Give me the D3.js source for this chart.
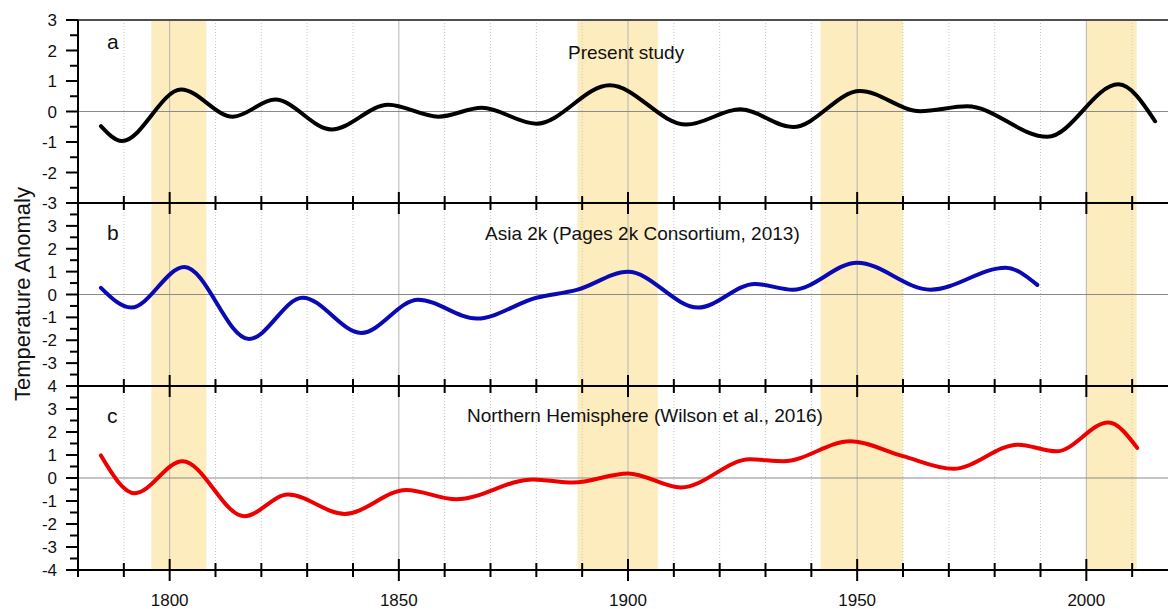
<!DOCTYPE html>
<html>
<head>
<meta charset="utf-8">
<script src="https://cdn.jsdelivr.net/npm/d3@7"></script>
<style>
  html, body { margin: 0; padding: 0; background: #fff; }
  svg { display: block; font-family: Arial, "Liberation Sans", sans-serif; }
</style>
</head>
<body>
<svg id="chart" width="1168" height="609"></svg>
<script>
// ---------------- data ----------------
const presentYears = [1785, 1789.6, 1802.5, 1813.8, 1823, 1835.3, 1847.7, 1858.6, 1868.1, 1880, 1896, 1912.7, 1924.5, 1936, 1950.6, 1963.8, 1974, 1991.5, 2007, 2015];
const presentVals  = [-0.48, -0.97, 0.72, -0.17, 0.39, -0.59, 0.22, -0.17, 0.12, -0.40, 0.86, -0.43, 0.07, -0.51, 0.67, 0.01, 0.17, -0.83, 0.89, -0.32];

const asiaYears = [1785, 1791.6, 1803.2, 1817.3, 1829, 1841.8, 1854.2, 1867, 1880, 1888.8, 1900, 1915.3, 1927.7, 1936, 1950, 1966, 1982.4, 1989.3];
const asiaVals  = [0.29, -0.57, 1.2, -1.95, -0.14, -1.68, -0.23, -1.05, -0.14, 0.2, 0.99, -0.57, 0.46, 0.21, 1.39, 0.21, 1.17, 0.42];

const nhYears = [1785, 1792.4, 1802.8, 1816.3, 1825.8, 1838.2, 1851.6, 1862.5, 1879.3, 1888, 1900, 1911.6, 1926.6, 1933.9, 1948.5, 1960, 1971, 1985.1, 1993.5, 2004.8, 2011.1];
const nhVals  = [0.98, -0.66, 0.73, -1.66, -0.72, -1.56, -0.52, -0.92, -0.06, -0.2, 0.2, -0.41, 0.81, 0.73, 1.6, 0.95, 0.4, 1.45, 1.16, 2.41, 1.31];

const bandStarts = [1796, 1889, 1942, 2000];
const bandEnds   = [1808, 1906.5, 1960, 2011];

const xTickLabels = [1800, 1850, 1900, 1950, 2000];
const panelLetters = ["a", "b", "c"];
const panelTitles = ["Present study", "Asia 2k (Pages 2k Consortium, 2013)", "Northern Hemisphere (Wilson et al., 2016)"];
const yLabel = "Temperature Anomaly";

// ---------------- layout ----------------
const svg = d3.select("#chart");
const left = 78, right = 1178;
const x = d3.scaleLinear().domain([1780, 2020]).range([left, right]);

const panels = [
  { top: 20,  bottom: 203, domain: [-3, 3], labels: [-3, -2, -1, 0, 1, 2, 3], years: presentYears, vals: presentVals, color: "#000000", titleX: 568, titleY: 59, letterY: 49 },
  { top: 203, bottom: 386, domain: [-4, 4], labels: [-3, -2, -1, 0, 1, 2, 3], years: asiaYears, vals: asiaVals, color: "#0a0ab4", titleX: 485, titleY: 240, letterY: 240 },
  { top: 386, bottom: 570, domain: [-4, 4], labels: [-4, -3, -2, -1, 0, 1, 2, 3, 4], years: nhYears, vals: nhVals, color: "#ee0000", titleX: 467, titleY: 422, letterY: 423 }
];
panels.forEach(p => { p.y = d3.scaleLinear().domain(p.domain).range([p.bottom, p.top]); });

const defs = svg.append("defs");
defs.append("clipPath").attr("id", "plotclip").append("rect")
  .attr("x", left).attr("y", 20).attr("width", right - left).attr("height", 550);

const plot = svg.append("g").attr("clip-path", "url(#plotclip)");

// bands
plot.selectAll("rect.band").data(bandStarts).enter().append("rect")
  .attr("class", "band")
  .attr("x", (d) => x(d))
  .attr("width", (d, i) => x(bandEnds[i]) - x(d))
  .attr("y", 20).attr("height", 550)
  .attr("fill", "#fdedbe");

// vertical grid
const minorYears = d3.range(1790, 2021, 10).filter(v => v % 50 !== 0);
plot.selectAll("line.gminor").data(minorYears).enter().append("line")
  .attr("x1", d => x(d)).attr("x2", d => x(d)).attr("y1", 20).attr("y2", 570)
  .attr("stroke", "#c8c8c8").attr("stroke-width", 1).attr("stroke-dasharray", "1,2");
plot.selectAll("line.gmajor").data(xTickLabels).enter().append("line")
  .attr("x1", d => x(d)).attr("x2", d => x(d)).attr("y1", 20).attr("y2", 570)
  .attr("stroke", "#b4b4b4").attr("stroke-width", 1);

// zero lines and series
const yTicksMajor = [];
panels.forEach((p, i) => {
  plot.append("line")
    .attr("x1", left).attr("x2", right).attr("y1", p.y(0)).attr("y2", p.y(0))
    .attr("stroke", "#8a8a8a").attr("stroke-width", 1.2);
  const pts = p.years.map((yr, k) => [yr, p.vals[k]]);
  const line = d3.line().x(d => x(d[0])).y(d => p.y(d[1])).curve(d3.curveMonotoneX);
  plot.append("path").datum(pts)
    .attr("d", line).attr("fill", "none")
    .attr("stroke", p.color).attr("stroke-width", 4)
    .attr("stroke-linecap", "round").attr("stroke-linejoin", "round");
});

// frame lines
svg.append("line").attr("x1", left).attr("x2", 1168).attr("y1", 20).attr("y2", 20)
  .attr("stroke", "#505050").attr("stroke-width", 2);
[203, 386, 570].forEach(yy => {
  svg.append("line").attr("x1", left).attr("x2", 1168).attr("y1", yy).attr("y2", yy)
    .attr("stroke", "#000").attr("stroke-width", 2);
});
svg.append("line").attr("x1", left).attr("x2", left).attr("y1", 20).attr("y2", 570)
  .attr("stroke", "#000").attr("stroke-width", 2);

// x ticks on each boundary
const allTickYears = d3.range(1780, 2021, 10);
[203, 386, 570].forEach(yy => {
  svg.selectAll(null).data(allTickYears).enter().append("line")
    .attr("x1", d => x(d)).attr("x2", d => x(d))
    .attr("y1", d => yy - (d % 50 === 0 ? 11 : 7))
    .attr("y2", d => yy + (d % 50 === 0 ? 11 : 7))
    .attr("stroke", "#000").attr("stroke-width", 2);
});

// x tick labels
svg.selectAll("text.xl").data(xTickLabels).enter().append("text")
  .attr("x", d => x(d)).attr("y", 606)
  .attr("text-anchor", "middle").attr("font-size", 17).attr("fill", "#111")
  .text(d => d);

// y axes
panels.forEach((p, i) => {
  const ticks = d3.range(p.domain[0], p.domain[1] + 0.001, 0.5);
  svg.selectAll(null).data(ticks).enter().append("line")
    .attr("x1", d => Number.isInteger(d) ? left - 12 : left - 8).attr("x2", left)
    .attr("y1", d => p.y(d)).attr("y2", d => p.y(d))
    .attr("stroke", "#000").attr("stroke-width", 2);
  svg.selectAll(null).data(p.labels).enter().append("text")
    .attr("x", 57).attr("y", d => p.y(d)).attr("dy", "0.36em")
    .attr("text-anchor", "end").attr("font-size", 17).attr("fill", "#111")
    .text(d => d);
  svg.append("text").attr("x", 107).attr("y", p.letterY)
    .attr("font-size", 21).attr("fill", "#111").text(panelLetters[i]);
  svg.append("text").attr("x", p.titleX).attr("y", p.titleY)
    .attr("font-size", 19).attr("fill", "#111").text(panelTitles[i]);
});

// y axis title
svg.append("text")
  .attr("transform", "translate(30,294) rotate(-90)")
  .attr("text-anchor", "middle").attr("font-size", 22).attr("fill", "#111")
  .text(yLabel);
</script>
</body>
</html>
